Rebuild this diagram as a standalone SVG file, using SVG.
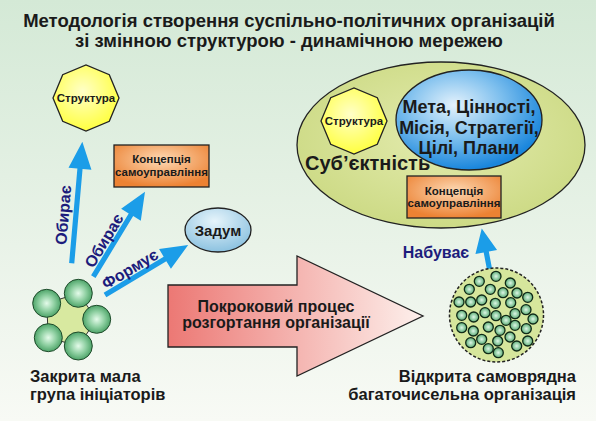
<svg xmlns="http://www.w3.org/2000/svg" width="596" height="421" viewBox="0 0 596 421">
<defs>
<linearGradient id="bg" x1="0" y1="0" x2="0" y2="1">
<stop offset="0" stop-color="#d4e9d6"/>
<stop offset="1" stop-color="#f8faf5"/>
</linearGradient>
<radialGradient id="yel" cx="0.45" cy="0.4" r="0.6">
<stop offset="0" stop-color="#ffffc8"/>
<stop offset="1" stop-color="#ffff40"/>
</radialGradient>
<radialGradient id="org" cx="0.5" cy="0.35" r="0.65">
<stop offset="0" stop-color="#fdd9b4"/>
<stop offset="1" stop-color="#ec8233"/>
</radialGradient>
<radialGradient id="sky" cx="0.45" cy="0.3" r="0.7">
<stop offset="0" stop-color="#e6f4fb"/>
<stop offset="1" stop-color="#8cc2e0"/>
</radialGradient>
<radialGradient id="blu" cx="0.4" cy="0.35" r="0.65">
<stop offset="0" stop-color="#e4f2fc"/>
<stop offset="0.5" stop-color="#7fc0ee"/>
<stop offset="1" stop-color="#1a86dc"/>
</radialGradient>
<radialGradient id="olive" cx="0.5" cy="0.45" r="0.6">
<stop offset="0" stop-color="#e3ebae"/>
<stop offset="1" stop-color="#cbd982"/>
</radialGradient>
<linearGradient id="pink" x1="0" y1="0" x2="1" y2="0">
<stop offset="0" stop-color="#ec7874"/>
<stop offset="1" stop-color="#fdf0ec"/>
</linearGradient>
<radialGradient id="grn" cx="0.5" cy="0.5" r="0.55">
<stop offset="0" stop-color="#e4fbea"/>
<stop offset="0.5" stop-color="#8fd0a2"/>
<stop offset="1" stop-color="#3f9a5c"/>
</radialGradient>
<radialGradient id="grs" cx="0.5" cy="0.5" r="0.55">
<stop offset="0" stop-color="#ddf7e6"/>
<stop offset="1" stop-color="#4ea56a"/>
</radialGradient>
</defs>
<style>
text{font-family:"Liberation Sans",Arial,sans-serif;font-weight:bold;fill:#1a1a1a}
.ttl{font-size:18.5px;text-anchor:middle}
.sm{font-size:11.5px;text-anchor:middle}
.lbl{font-size:16px;fill:#1c1c7c;text-anchor:middle}
.big{font-size:16.5px}
.ln{stroke:#222;stroke-width:1.3}
.arr{fill:#1b9de8}
.gc{fill:url(#grn);stroke:#1e4a2a;stroke-width:1}
.sc{fill:url(#grs);stroke:#102a18;stroke-width:1.3}
</style>
<rect x="0" y="0" width="596" height="421" fill="url(#bg)"/>
<g id="title">
<text class="ttl" x="289" y="27">Методологія створення суспільно-політичних організацій</text>
<text class="ttl" x="289" y="46.5">зі змінною структурою - динамічною мережею</text>
</g>
<g id="connectors">
<path class="arr" transform="translate(71.7,263.3) rotate(-85)" d="M0,-2.6 H95 V-11.5 L122,0 L95,11.5 V2.6 H0 Z"/>
<path class="arr" transform="translate(93.3,276.7) rotate(-58.7)" d="M0,-2.6 H72.5 V-11.5 L99.5,0 L72.5,11.5 V2.6 H0 Z"/>
<path class="arr" transform="translate(105,295) rotate(-31)" d="M0,-2.6 H70 V-11.5 L97,0 L70,11.5 V2.6 H0 Z"/>
<path class="arr" transform="translate(490,271.7) rotate(-100.8)" d="M0,-2.6 H20 V-11 L44,0 L20,11 V2.6 H0 Z"/>
<text class="lbl" transform="translate(63.3,215) rotate(-85)" x="0" y="5.5">Обирає</text>
<text class="lbl" transform="translate(104,240.7) rotate(-58.7)" x="0" y="5.5">Обирає</text>
<text class="lbl" transform="translate(130,269) rotate(-31)" x="0" y="5.5">Формує</text>
<text class="lbl" x="436" y="258">Набуває</text>
</g>
<g id="struktura-left">
<polygon class="ln" fill="url(#yel)" points="119,98 109.3,121.3 86,131 62.7,121.3 53,98 62.7,74.7 86,65 109.3,74.7"/>
<text class="sm" x="86" y="102">Структура</text>
</g>
<g id="koncepciya-left">
<rect class="ln" x="114" y="145" width="95" height="42" fill="url(#org)"/>
<text class="sm" x="161.5" y="163">Концепція</text>
<text class="sm" x="161.5" y="175.5">самоуправління</text>
</g>
<g id="zadum">
<ellipse class="ln" cx="218" cy="230" rx="33" ry="22" fill="url(#sky)"/>
<text x="218" y="235.5" style="font-size:15px;text-anchor:middle">Задум</text>
</g>
<g id="group-small">
<polygon fill="#d8e9a0" stroke="#333" stroke-width="1" points="78.3,293.3 96.7,319.3 78.3,346 48.3,337.7 46.7,303.3"/>
<circle class="gc" cx="78.3" cy="293.3" r="14"/>
<circle class="gc" cx="96.7" cy="319.3" r="14"/>
<circle class="gc" cx="78.3" cy="346" r="14"/>
<circle class="gc" cx="48.3" cy="337.7" r="14"/>
<circle class="gc" cx="46.7" cy="303.3" r="14"/>
<text class="big" x="30" y="382">Закрита мала</text>
<text class="big" x="30" y="400">група ініціаторів</text>
</g>
<g id="process">
<polygon class="ln" fill="url(#pink)" points="168,285 297,285 297,256 423,316 297,376 297,347 168,347"/>
<text x="276" y="311.5" style="font-size:16px;text-anchor:middle">Покроковий процес</text>
<text x="276" y="328" style="font-size:16px;text-anchor:middle">розгортання організації</text>
</g>
<g id="subjectness">
<ellipse class="ln" cx="441" cy="145" rx="144" ry="83" fill="url(#olive)"/>
<text x="305" y="170" style="font-size:20px">Суб’єктність</text>
</g>
<g id="mission">
<ellipse class="ln" cx="469" cy="120" rx="73" ry="50" fill="url(#blu)"/>
<text x="469" y="113" style="font-size:18px;text-anchor:middle">Мета, Цінності,</text>
<text x="469" y="134" style="font-size:18px;text-anchor:middle">Місія, Стратегії,</text>
<text x="469" y="154" style="font-size:18px;text-anchor:middle">Цілі, Плани</text>
</g>
<g id="struktura-right">
<polygon class="ln" fill="url(#yel)" points="387,121 377.3,144.3 354,154 330.7,144.3 321,121 330.7,97.7 354,88 377.3,97.7"/>
<text class="sm" x="354" y="125">Структура</text>
</g>
<g id="koncepciya-right">
<rect class="ln" x="407" y="176" width="94" height="42" fill="url(#org)"/>
<text class="sm" x="454" y="195">Концепція</text>
<text class="sm" x="454" y="207">самоуправління</text>
</g>
<g id="network">
<circle cx="496.5" cy="315" r="47" fill="#d6e69c" stroke="#222" stroke-width="1.5" stroke-dasharray="3,2"/>
<circle class="sc" cx="496" cy="276.3" r="5"/>
<circle class="sc" cx="479.3" cy="281.3" r="5"/>
<circle class="sc" cx="510.3" cy="283" r="5"/>
<circle class="sc" cx="469.3" cy="289.3" r="5"/>
<circle class="sc" cx="490.3" cy="289.3" r="5"/>
<circle class="sc" cx="503" cy="292.7" r="5"/>
<circle class="sc" cx="517" cy="293" r="5"/>
<circle class="sc" cx="527.7" cy="297.3" r="5"/>
<circle class="sc" cx="459" cy="302" r="5"/>
<circle class="sc" cx="470.7" cy="302" r="5"/>
<circle class="sc" cx="481.7" cy="300" r="5"/>
<circle class="sc" cx="495.3" cy="303.3" r="5"/>
<circle class="sc" cx="510.7" cy="302.7" r="5"/>
<circle class="sc" cx="526" cy="309.7" r="5"/>
<circle class="sc" cx="461.7" cy="315.3" r="5"/>
<circle class="sc" cx="473.7" cy="317" r="5"/>
<circle class="sc" cx="485" cy="312.7" r="5"/>
<circle class="sc" cx="496" cy="315.7" r="5"/>
<circle class="sc" cx="506" cy="320.3" r="5"/>
<circle class="sc" cx="515" cy="313.7" r="5"/>
<circle class="sc" cx="533" cy="319" r="5"/>
<circle class="sc" cx="461.7" cy="327.7" r="5"/>
<circle class="sc" cx="473.3" cy="331" r="5"/>
<circle class="sc" cx="488.3" cy="327" r="5"/>
<circle class="sc" cx="500" cy="330.3" r="5"/>
<circle class="sc" cx="515" cy="325.3" r="5"/>
<circle class="sc" cx="526.3" cy="328.7" r="5"/>
<circle class="sc" cx="470.7" cy="342.7" r="5"/>
<circle class="sc" cx="481.7" cy="339.3" r="5"/>
<circle class="sc" cx="497.7" cy="341" r="5"/>
<circle class="sc" cx="510" cy="337" r="5"/>
<circle class="sc" cx="527.7" cy="341" r="5"/>
<circle class="sc" cx="488.3" cy="348.7" r="5"/>
<circle class="sc" cx="498.3" cy="352.7" r="5"/>
<circle class="sc" cx="516.7" cy="346" r="5"/>
<text class="big" x="576" y="382" style="text-anchor:end">Відкрита самоврядна</text>
<text class="big" x="576" y="400" style="text-anchor:end">багаточисельна організація</text>
</g>
</svg>
